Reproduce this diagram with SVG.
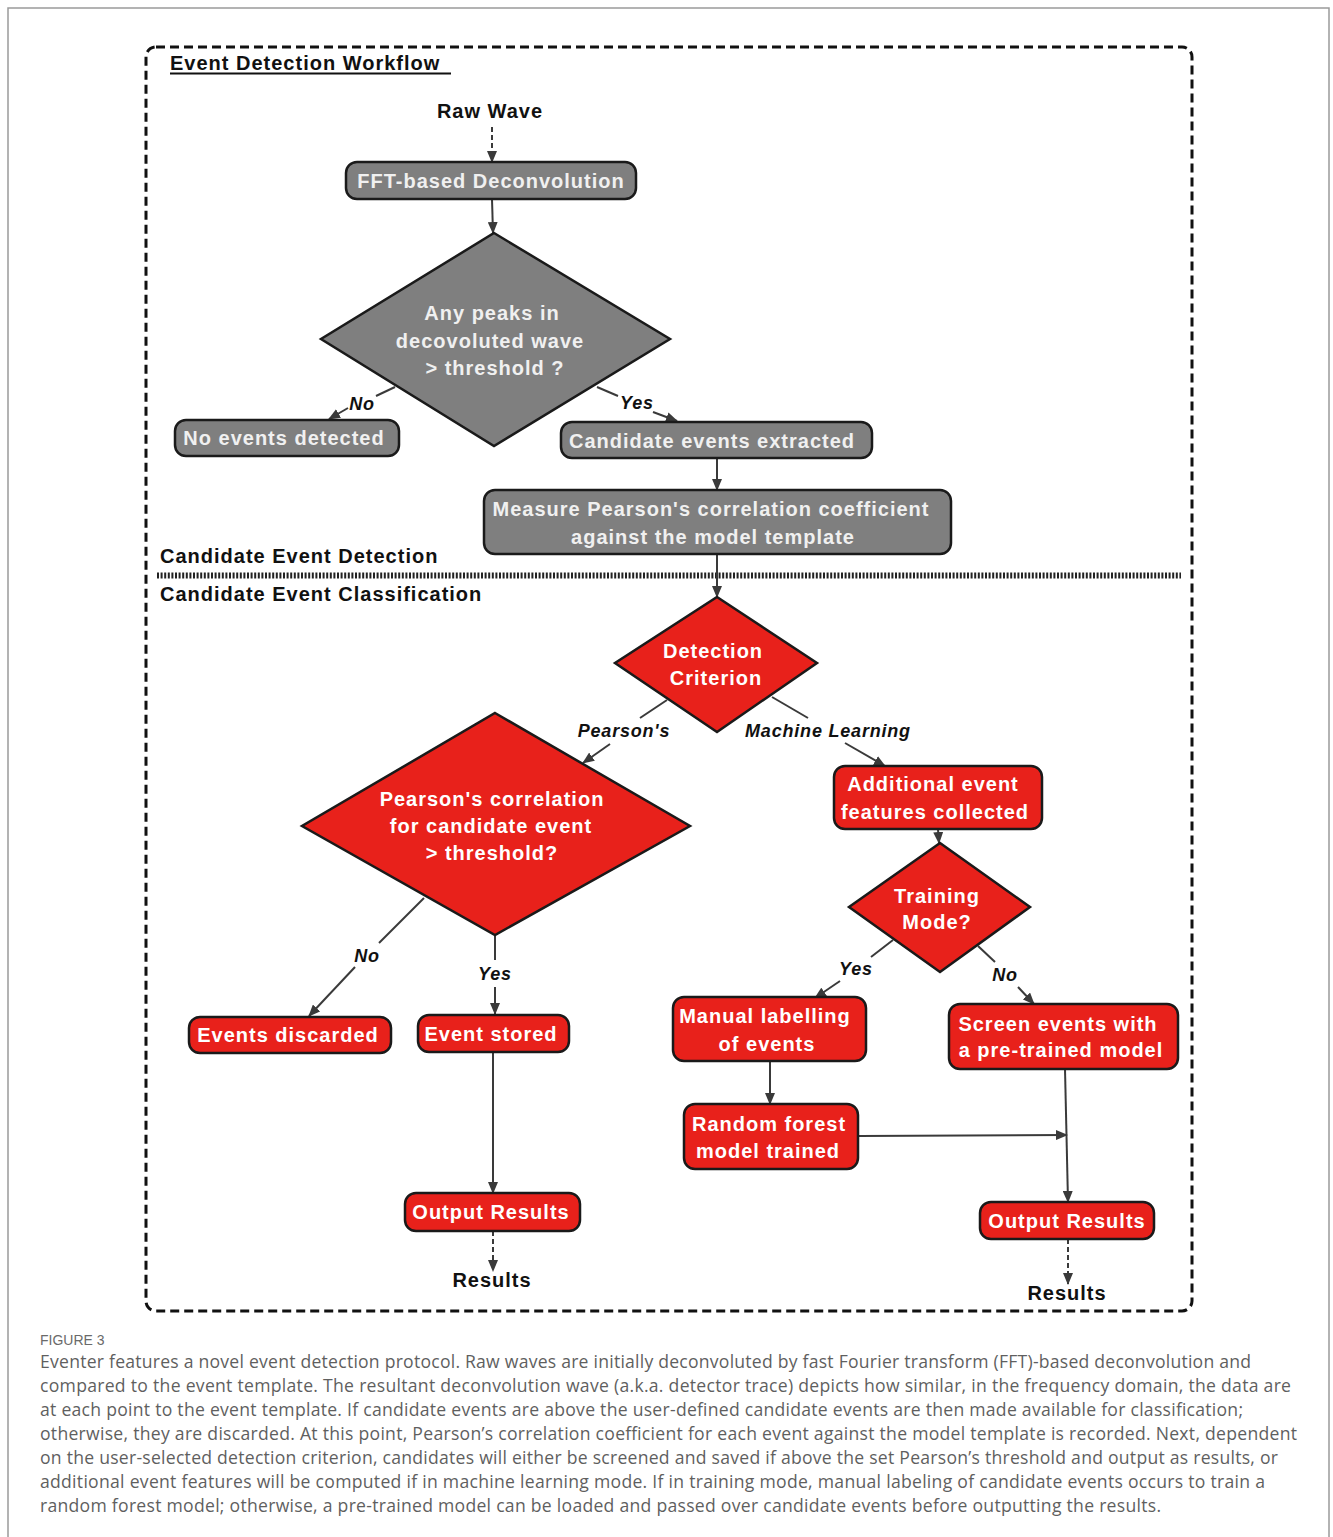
<svg xmlns="http://www.w3.org/2000/svg" width="1333" height="1537" viewBox="0 0 1333 1537">
<defs>
<marker id="ah" markerUnits="userSpaceOnUse" markerWidth="12" markerHeight="10" refX="11" refY="5" orient="auto">
<path d="M0,0 L12,5 L0,10 Z" fill="#3a3a3a"/>
</marker>
</defs>
<style>
text{font-family:"Liberation Sans",Arial,sans-serif}
.nt{font-weight:bold;font-size:20px;letter-spacing:1px;text-anchor:middle}
.gt{fill:#f0f0f0}
.rt{fill:#ffffff}
.g{fill:#7f7f7f;stroke:#1a1a1a;stroke-width:2.5}
.r{fill:#e8211b;stroke:#1a1a1a;stroke-width:2.5}
.c{fill:none;stroke:#3a3a3a;stroke-width:2}
.cd{fill:none;stroke:#3a3a3a;stroke-width:2;stroke-dasharray:5 3}
.lbl{font-weight:bold;font-style:italic;font-size:18px;letter-spacing:0.8px;text-anchor:middle;fill:#111}
.hd{font-weight:bold;font-size:20px;letter-spacing:1px;fill:#111}
.cap{font-family:"Open Sans","Noto Sans",sans-serif;font-size:17.6px;fill:#5f5f5f}
</style>
<rect width="1333" height="1537" fill="#ffffff"/>
<path d="M8,1537 L8,8 L1329,8 L1329,1537" fill="none" stroke="#9a9a9a" stroke-width="1.5"/>
<rect x="146" y="47" width="1046" height="1264" rx="10" fill="none" stroke="#111" stroke-width="3" stroke-dasharray="9 5"/>
<text class="hd" x="170" y="70">Event Detection Workflow</text>
<line x1="170" y1="73.5" x2="451" y2="73.5" stroke="#111" stroke-width="2"/>
<text class="hd" x="160" y="563">Candidate Event Detection</text>
<line x1="157" y1="575.5" x2="1181" y2="575.5" stroke="#222" stroke-width="6" stroke-dasharray="2 1.6"/>
<text class="hd" x="160" y="601">Candidate Event Classification</text>
<text class="hd" x="490" y="118" text-anchor="middle">Raw Wave</text>
<text class="hd" x="492" y="1287" text-anchor="middle" font-size="19">Results</text>
<text class="hd" x="1067" y="1300" text-anchor="middle" font-size="19">Results</text>

<g id="connectors">
<path class="cd" d="M492,127 L492,162" marker-end="url(#ah)"/>
<path class="c" d="M492,199 L493,233" marker-end="url(#ah)"/>
<path class="c" d="M395,387 L376,396"/>
<path class="c" d="M348,408 L329,419" marker-end="url(#ah)"/>
<path class="c" d="M597,387 L618,396"/>
<path class="c" d="M653,412 L677,421" marker-end="url(#ah)"/>
<path class="c" d="M717,458 L717,490" marker-end="url(#ah)"/>
<path class="c" d="M717,554 L717,597" marker-end="url(#ah)"/>
<path class="c" d="M667,700 L640,718"/>
<path class="c" d="M610,744 L583,763" marker-end="url(#ah)"/>
<path class="c" d="M772,697 L808,718"/>
<path class="c" d="M845,743 L885,766" marker-end="url(#ah)"/>
<path class="c" d="M938,829 L939,843" marker-end="url(#ah)"/>
<path class="c" d="M424,898 L379,943"/>
<path class="c" d="M355,967 L309,1016" marker-end="url(#ah)"/>
<path class="c" d="M495,935 L495,960"/>
<path class="c" d="M495,987 L495,1014" marker-end="url(#ah)"/>
<path class="c" d="M493,1052 L493,1193" marker-end="url(#ah)"/>
<path class="cd" d="M493,1231 L493,1271" marker-end="url(#ah)"/>
<path class="c" d="M893,940 L871,957"/>
<path class="c" d="M840,981 L815,998" marker-end="url(#ah)"/>
<path class="c" d="M978,946 L995,962"/>
<path class="c" d="M1018,987 L1034,1004" marker-end="url(#ah)"/>
<path class="c" d="M770,1061 L770,1104" marker-end="url(#ah)"/>
<path class="c" d="M859,1136 L1067,1135" marker-end="url(#ah)"/>
<path class="c" d="M1065,1069 L1068,1202" marker-end="url(#ah)"/>
<path class="cd" d="M1068,1239 L1068,1284" marker-end="url(#ah)"/>
<text class="lbl" x="362" y="410">No</text>
<text class="lbl" x="637" y="409">Yes</text>
<text class="lbl" x="624" y="737">Pearson's</text>
<text class="lbl" x="828" y="737">Machine Learning</text>
<text class="lbl" x="367" y="962">No</text>
<text class="lbl" x="495" y="980">Yes</text>
<text class="lbl" x="856" y="975">Yes</text>
<text class="lbl" x="1005" y="981">No</text>
</g>

<g id="n-fft">
<rect class="g" x="346" y="162" width="290" height="37" rx="11"/>
<text class="nt gt" x="491" y="188">FFT-based Deconvolution</text>
</g>
<g id="n-peaks">
<polygon class="g" points="494,233 670,339 494,446 321,339"/>
<text class="nt gt" x="492" y="320">Any peaks in</text>
<text class="nt gt" x="490" y="348">decovoluted wave</text>
<text class="nt gt" x="495" y="375">&gt; threshold ?</text>
</g>
<g id="n-noevents">
<rect class="g" x="175" y="420" width="224" height="36" rx="11"/>
<text class="nt gt" x="284" y="445">No events detected</text>
</g>
<g id="n-candidates">
<rect class="g" x="561" y="422" width="311" height="36" rx="11"/>
<text class="nt gt" x="712" y="448">Candidate events extracted</text>
</g>
<g id="n-measure">
<rect class="g" x="484" y="490" width="467" height="64" rx="11"/>
<text class="nt gt" x="711" y="516">Measure Pearson's correlation coefficient</text>
<text class="nt gt" x="713" y="544">against the model template</text>
</g>
<g id="n-criterion">
<polygon class="r" points="717,597 817,663 717,732 615,663"/>
<text class="nt rt" x="713" y="658">Detection</text>
<text class="nt rt" x="716" y="685">Criterion</text>
</g>
<g id="n-pearson">
<polygon class="r" points="495,713 690,826 495,935 302,826"/>
<text class="nt rt" x="492" y="806">Pearson's correlation</text>
<text class="nt rt" x="491" y="833">for candidate event</text>
<text class="nt rt" x="492" y="860">&gt; threshold?</text>
</g>
<g id="n-discarded">
<rect class="r" x="189" y="1017" width="202" height="36" rx="11"/>
<text class="nt rt" x="288" y="1042">Events discarded</text>
</g>
<g id="n-stored">
<rect class="r" x="418" y="1015" width="151" height="37" rx="11"/>
<text class="nt rt" x="491" y="1041">Event stored</text>
</g>
<g id="n-output1">
<rect class="r" x="405" y="1193" width="175" height="38" rx="11"/>
<text class="nt rt" x="491" y="1219">Output Results</text>
</g>
<g id="n-additional">
<rect class="r" x="834" y="766" width="208" height="63" rx="11"/>
<text class="nt rt" x="933" y="791">Additional event</text>
<text class="nt rt" x="935" y="819">features collected</text>
</g>
<g id="n-training">
<polygon class="r" points="940,843 1030,907 940,972 849,907"/>
<text class="nt rt" x="937" y="903">Training</text>
<text class="nt rt" x="937" y="929">Mode?</text>
</g>
<g id="n-manual">
<rect class="r" x="673" y="997" width="193" height="64" rx="11"/>
<text class="nt rt" x="765" y="1023">Manual labelling</text>
<text class="nt rt" x="767" y="1051">of events</text>
</g>
<g id="n-screen">
<rect class="r" x="949" y="1004" width="229" height="65" rx="11"/>
<text class="nt rt" x="1058" y="1031">Screen events with</text>
<text class="nt rt" x="1061" y="1057">a pre-trained model</text>
</g>
<g id="n-rf">
<rect class="r" x="684" y="1104" width="174" height="65" rx="11"/>
<text class="nt rt" x="769" y="1131">Random forest</text>
<text class="nt rt" x="768" y="1158">model trained</text>
</g>
<g id="n-output2">
<rect class="r" x="980" y="1202" width="174" height="37" rx="11"/>
<text class="nt rt" x="1067" y="1228">Output Results</text>
</g>

<text x="40" y="1345" font-family="'Open Sans','Noto Sans',sans-serif" font-size="14" fill="#6a6a6a">FIGURE 3</text>
<text class="cap" x="40" y="1368" textLength="1211">Eventer features a novel event detection protocol. Raw waves are initially deconvoluted by fast Fourier transform (FFT)-based deconvolution and</text>
<text class="cap" x="40" y="1392" textLength="1251">compared to the event template. The resultant deconvolution wave (a.k.a. detector trace) depicts how similar, in the frequency domain, the data are</text>
<text class="cap" x="40" y="1416" textLength="1203">at each point to the event template. If candidate events are above the user-defined candidate events are then made available for classification;</text>
<text class="cap" x="40" y="1440" textLength="1257">otherwise, they are discarded. At this point, Pearson’s correlation coefficient for each event against the model template is recorded. Next, dependent</text>
<text class="cap" x="40" y="1464" textLength="1238">on the user-selected detection criterion, candidates will either be screened and saved if above the set Pearson’s threshold and output as results, or</text>
<text class="cap" x="40" y="1488" textLength="1225">additional event features will be computed if in machine learning mode. If in training mode, manual labeling of candidate events occurs to train a</text>
<text class="cap" x="40" y="1512" textLength="1121">random forest model; otherwise, a pre-trained model can be loaded and passed over candidate events before outputting the results.</text>
</svg>
